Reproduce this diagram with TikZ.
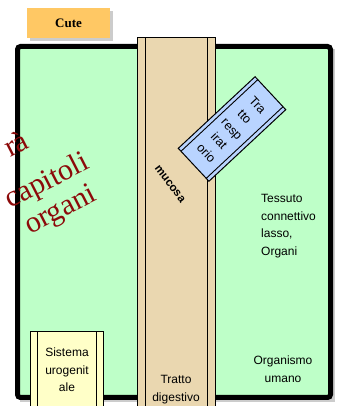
\documentclass[tikz,border=0pt]{standalone}
\usepackage{fontspec}
\setmainfont{Liberation Serif}
\newfontfamily\labelfont{Liberation Sans}
\usetikzlibrary{positioning}
\definecolor{skingreen}{RGB}{190,255,200}
\definecolor{guttan}{RGB}{234,215,176}
\definecolor{lungblue}{RGB}{185,212,255}
\definecolor{urocream}{RGB}{255,255,200}
\definecolor{cuteorange}{RGB}{255,200,100}
\definecolor{titlered}{RGB}{140,10,10}
\tikzset{
  wire/.style={line width=0.9pt},
  tube/.style={draw, line width=1pt},
  txt/.style={font=\labelfont\fontsize{12}{17.5}\selectfont, inner sep=0pt, align=center},
  redtxt/.style={font=\fontsize{30}{30}\selectfont, text=titlered, rotate=27, inner sep=0pt, anchor=base east},
  shade/.style={fill=black!20}
}

\begin{document}
\begin{tikzpicture}[x=1pt,y=1pt]
  \useasboundingbox (0,0) rectangle (340,406);
  \clip (0,0) rectangle (340,406);
  % label on top
  \fill[shade] (30,365) rectangle (113,395);
  \node[fill=cuteorange, minimum width=83, minimum height=30, inner sep=0pt,
        font=\bfseries\fontsize{13}{13}\selectfont] (cute) at (68.5,383) {Cute};
  % body
  \fill[shade] (20,4) rectangle (335,357);
  \draw[fill=skingreen, line width=5pt, rounded corners=3pt] (17.5,8.5) rectangle (330.5,359.5);
  % digestive tract
  \draw[tube, fill=guttan] (137,-5) rectangle (215,368);
  \draw[wire] (145,-5) -- (145,368) (207,-5) -- (207,368);
  \node[txt, font=\labelfont\bfseries\fontsize{11.5}{11.5}\selectfont, rotate=-53] (mucosa) at (170,222) {mucosa};
  \node[txt] (digestivo) at (176,16.5) {Tratto\\digestivo};
  % respiratory tract
  \begin{scope}[shift={(232,277)}, rotate=-47]
    \draw[tube, fill=lungblue] (-22.5,-52.5) rectangle (22.5,52.5);
    \draw[wire] (-18.5,-52.5) -- (-18.5,52.5) (18.5,-52.5) -- (18.5,52.5);
    \node[txt, transform shape, font=\labelfont\fontsize{12.5}{17.5}\selectfont] (respiratorio) at (0,0) {Tra\\tto\\resp\\irat\\orio};
  \end{scope}
  % urogenital system
  \draw[tube, fill=urocream] (30,-5) rectangle (103,74);
  \draw[wire] (37,-5) -- (37,74) (96,-5) -- (96,74);
  \node[txt] (urogenitale) at (67,36) {Sistema\\urogenit\\ale};
  % texts
  \node[txt, align=left, anchor=west] (tessuto) at (261,180) {Tessuto\\connettivo\\lasso,\\Organi};
  \node[txt] (organismo) at (283,37) {Organismo\\umano};
  \node[redtxt] (riga1) at (31,259) {rà};
  \node[redtxt] (riga2) at (91,238) {capitoli};
  \node[redtxt] (riga3) at (98,206) {organi};
\end{tikzpicture}
\end{document}
